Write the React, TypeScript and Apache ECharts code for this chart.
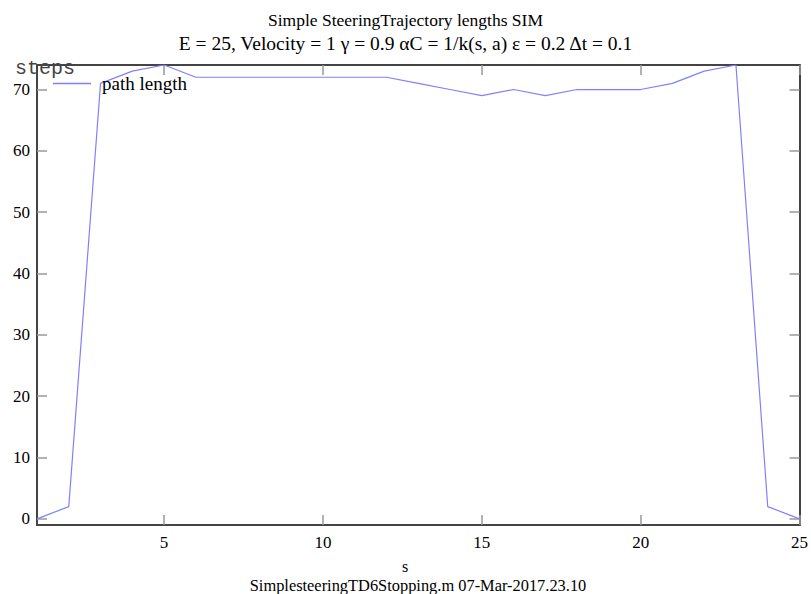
import React, { useEffect, useRef } from "react";
import * as echarts from "echarts";

const sValues = [1, 2, 3, 4, 5, 6, 7, 8, 9, 10, 11, 12, 13, 14, 15, 16, 17, 18, 19, 20, 21, 22, 23, 24, 25];
const pathLength = [0, 2, 71, 73, 74, 72, 72, 72, 72, 72, 72, 72, 71, 70, 69, 70, 69, 70, 70, 70, 71, 73, 74, 2, 0];
const xTicks = [5, 10, 15, 20, 25];
const yTicks = [0, 10, 20, 30, 40, 50, 60, 70];
const titleLine1 = "Simple SteeringTrajectory lengths SIM";
const titleLine2 = "E = 25, Velocity = 1 \u03b3 = 0.9 \u03b1C = 1/k(s, a) \u03b5 = 0.2 \u0394t = 0.1";
const seriesName = "path length";
const yName = "steps";
const xName = "s";
const footer = "SimplesteeringTD6Stopping.m 07-Mar-2017.23.10";

const SERIF = "'Liberation Serif', 'Times New Roman', serif";

export default function App() {
  const ref = useRef<HTMLDivElement>(null);
  useEffect(() => {
    if (!ref.current) return;
    const chart = echarts.init(ref.current, undefined, { renderer: "svg" });
    const tickStyle = { show: true, inside: true, length: 10, lineStyle: { color: "#999", width: 1.5 } };
    const axisLine = { show: true, onZero: false, lineStyle: { color: "#444", width: 2 } };
    chart.setOption({
      animation: false,
      backgroundColor: "#fff",
      title: [
        {
          text: titleLine1,
          left: "center",
          top: 6,
          textStyle: { fontFamily: SERIF, fontSize: 17.5, fontWeight: "normal", color: "#000" },
        },
        {
          text: titleLine2,
          left: "center",
          top: 28,
          textStyle: { fontFamily: SERIF, fontSize: 19.5, fontWeight: "normal", color: "#000" },
        },
      ],
      legend: {
        data: [{ name: seriesName, icon: "rect" }],
        left: 48,
        top: 69,
        itemWidth: 38,
        itemHeight: 1.5,
        itemGap: 8,
        textStyle: { fontFamily: SERIF, fontSize: 19, color: "#000", padding: [0, 0, 0, 6] },
      },
      grid: { left: 37, right: 11, top: 65, bottom: 69, containLabel: false },
      xAxis: [
        {
          type: "value",
          min: 1,
          max: 25,
          position: "bottom",
          axisLine,
          axisTick: { ...tickStyle, customValues: xTicks },
          axisLabel: { customValues: xTicks, margin: 9, fontFamily: SERIF, fontSize: 17, color: "#000" },
          splitLine: { show: false },
        },
        {
          type: "value",
          min: 1,
          max: 25,
          position: "top",
          axisLine,
          axisTick: { ...tickStyle, customValues: xTicks },
          axisLabel: { show: false },
          splitLine: { show: false },
        },
      ],
      yAxis: [
        {
          type: "value",
          min: -1,
          max: 74,
          position: "left",
          axisLine,
          axisTick: { ...tickStyle, customValues: yTicks },
          axisLabel: { customValues: yTicks, margin: 7, fontFamily: SERIF, fontSize: 17, color: "#000" },
          splitLine: { show: false },
        },
        {
          type: "value",
          min: -1,
          max: 74,
          position: "right",
          axisLine,
          axisTick: { ...tickStyle, customValues: yTicks },
          axisLabel: { show: false },
          splitLine: { show: false },
        },
      ],
      graphic: [
        {
          type: "text",
          left: 15,
          top: 58,
          style: { text: yName, fontFamily: "'Liberation Mono', 'DejaVu Sans Mono', monospace", fontSize: 20, fontWeight: 300, fill: "#444" },
        },
        {
          type: "text",
          x: 405,
          y: 566,
          style: { text: xName, fontFamily: SERIF, fontSize: 16, fill: "#000", align: "center", verticalAlign: "middle" },
        },
        {
          type: "text",
          x: 418,
          y: 585,
          style: { text: footer, fontFamily: SERIF, fontSize: 16.4, fill: "#000", align: "center", verticalAlign: "middle" },
        },
      ],
      series: [
        {
          name: seriesName,
          type: "line",
          xAxisIndex: 0,
          yAxisIndex: 0,
          data: sValues.map((s, i) => [s, pathLength[i]]),
          showSymbol: false,
          symbol: "none",
          lineStyle: { color: "#8080ff", width: 1.2 },
          itemStyle: { color: "#8080ff" },
        },
      ],
    });
    return () => chart.dispose();
  }, []);
  return <div ref={ref} style={{ position: "fixed", left: 0, top: 0, width: 811, height: 594 }} />;
}
